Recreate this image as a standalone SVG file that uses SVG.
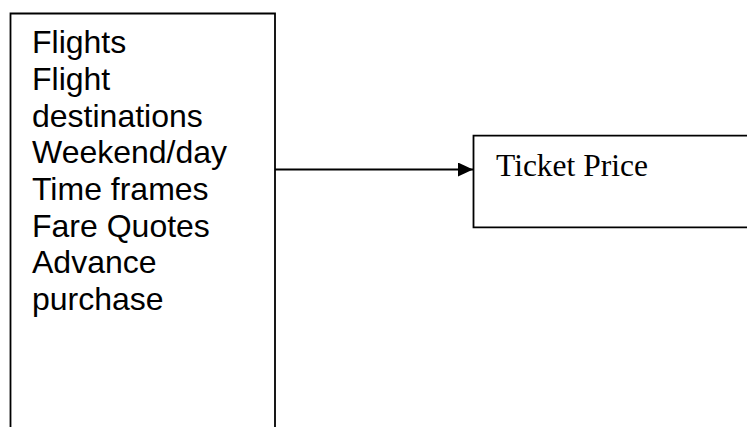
<svg xmlns="http://www.w3.org/2000/svg" width="747" height="427" viewBox="0 0 747 427">
<style>
.box{fill:#fff;stroke:#000;stroke-width:1.8}
.sans{font-family:"Liberation Sans",Arial,sans-serif;font-size:32px;fill:#000}
.serif{font-family:"Liberation Serif","Times New Roman",serif;font-size:31.5px;fill:#000}
.conn{stroke:#000;stroke-width:2;fill:none}
</style>
<defs>
<marker id="arrow" markerWidth="15" markerHeight="14" refX="15" refY="7" orient="auto" markerUnits="userSpaceOnUse">
<path d="M0,0 L15,7 L0,14 Z" fill="#000"/>
</marker>
</defs>
<rect width="747" height="427" fill="#fff"/>
<g id="inputs">
<path class="box" d="M10.5,440 V13.5 H275 V440"/>
<text class="sans" x="32" y="53.3">Flights</text>
<text class="sans" x="32" y="90">Flight</text>
<text class="sans" x="32" y="126.7">destinations</text>
<text class="sans" x="32" y="163.3">Weekend/day</text>
<text class="sans" x="32" y="200">Time frames</text>
<text class="sans" x="32" y="236.7">Fare Quotes</text>
<text class="sans" x="32" y="273.3">Advance</text>
<text class="sans" x="32" y="310">purchase</text>
</g>
<g id="ticket-price">
<path class="box" d="M760,135.7 H473.5 V227.3 H760"/>
<text class="serif" x="496" y="176">Ticket Price</text>
</g>
<g id="connectors">
<line class="conn" x1="275" y1="169.5" x2="473" y2="169.5" marker-end="url(#arrow)"/>
</g>
</svg>
